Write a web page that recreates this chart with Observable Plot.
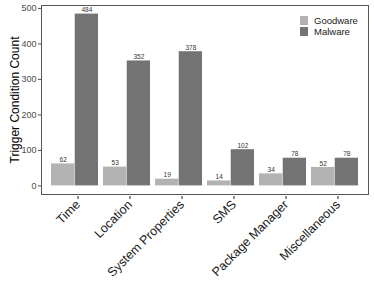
<!DOCTYPE html>
<html>
<head>
<meta charset="utf-8">
<script src="https://cdn.jsdelivr.net/npm/d3@7"></script>
<script src="https://cdn.jsdelivr.net/npm/@observablehq/plot@0.6"></script>
<style>
  body { margin: 0; background: #fff; }
  #wrap { position: relative; width: 374px; height: 299px; font-family: "Liberation Sans", Arial, sans-serif; }
  #legend { position: absolute; left: 300px; top: 15px; font-size: 9.5px; color: #1a1a1a; }
  .row { display: flex; align-items: center; height: 11px; line-height: 11px; }
  .sw { width: 8px; height: 9px; margin-right: 6px; }
</style>
</head>
<body>
<div id="wrap"></div>
<script>
const categories = ["Time", "Location", "System Properties", "SMS", "Package Manager", "Miscellaneous"];
const series = ["Goodware", "Malware"];
const goodware = [62, 53, 19, 14, 34, 52];
const malware = [484, 352, 378, 102, 78, 78];
const colors = ["#b3b3b3", "#737373"];
const yTicks = [0, 100, 200, 300, 400, 500];

const W = 374, H = 299, mL = 41, mR = 6, mT = 5, mB = 105;
const bw = d3.scaleBand().domain(categories).range([mL, W - mR]).paddingInner(0.1).paddingOuter(0.15).bandwidth();

const good = categories.map((c, i) => ({category: c, value: goodware[i]}));
const mal = categories.map((c, i) => ({category: c, value: malware[i]}));

const chart = Plot.plot({
  width: W, height: H,
  marginLeft: mL, marginRight: mR, marginTop: mT, marginBottom: mB,
  style: {fontFamily: "Liberation Sans, Arial, sans-serif", background: "#fff", overflow: "visible"},
  x: {type: "band", domain: categories, paddingInner: 0.1, paddingOuter: 0.15},
  y: {domain: [-24.2, 508.2]},
  marks: [
    Plot.barY(good, {x: "category", y: "value", fill: colors[0], insetRight: bw / 2}),
    Plot.barY(mal, {x: "category", y: "value", fill: colors[1], insetLeft: bw / 2}),
    Plot.text(good, {x: "category", y: "value", text: d => String(d.value), dx: -bw / 4, dy: -4, fontSize: 6.5, fill: "#333"}),
    Plot.text(mal, {x: "category", y: "value", text: d => String(d.value), dx: bw / 4, dy: -4, fontSize: 6.5, fill: "#333"}),
    Plot.frame({stroke: "#555", strokeWidth: 1}),
    Plot.axisY({ticks: yTicks, tickSize: 3, tickPadding: 2, fontSize: 9, color: "#4d4d4d",
      label: "Trigger Condition Count", labelAnchor: "center", labelArrow: "none", labelOffset: 31}),
    Plot.axisX({tickSize: 3, tickRotate: -45, fontSize: 12.5, color: "#1a1a1a", tickPadding: 3, dx: 3, dy: 2, label: null})
  ]
});
document.getElementById("wrap").appendChild(chart);

chart.querySelectorAll("[aria-label='y-axis label'] text").forEach(t => { t.style.fontSize = "12px"; t.style.fill = "#000"; });

const legend = document.createElement("div");
legend.id = "legend";
series.forEach((s, i) => {
  const row = document.createElement("div");
  row.className = "row";
  const sw = document.createElement("div");
  sw.className = "sw";
  sw.style.background = colors[i];
  const lab = document.createElement("span");
  lab.textContent = s;
  row.appendChild(sw); row.appendChild(lab);
  legend.appendChild(row);
});
document.getElementById("wrap").appendChild(legend);
</script>
</body>
</html>
